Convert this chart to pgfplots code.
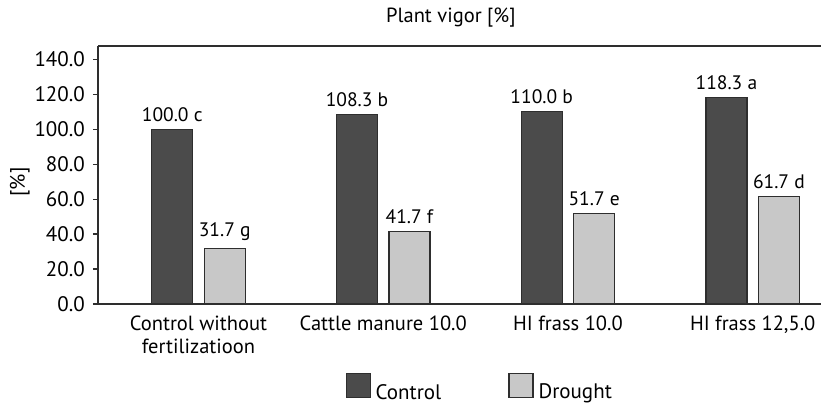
\documentclass[border=0pt]{standalone}
\usepackage{pgfplots}
\pgfplotsset{compat=1.18}
\usepackage{fontspec}
\setmainfont{PT Sans}
\definecolor{darkbar}{HTML}{4B4B4B}
\definecolor{lightbar}{HTML}{C8C8C8}
\definecolor{edge}{HTML}{2E2E2E}
\begin{document}
\fontsize{21}{24}\selectfont
\begin{tikzpicture}
\useasboundingbox (0,0) rectangle (821pt,406pt);
\begin{axis}[
  at={(98pt,102pt)}, anchor=south west,
  scale only axis, width=723pt, height=258pt,
  xmin=-0.544, xmax=3.370, ymin=0, ymax=147.6,
  axis x line*=box, axis y line*=left,
  axis line style={draw=edge, line width=1.3pt},
  ybar,
  bar width=0.222,
  ytick={0,20,...,140},
  tick align=outside,
  major tick length=5pt,
  ytick style={draw=edge, line width=1.2pt},
  y tick label style={/pgf/number format/fixed, /pgf/number format/fixed zerofill, /pgf/number format/precision=1},
  /pgf/number format/assume math mode=true,
  xtick={0,1,2,3},
  xticklabels={{Control without\\fertilizatioon},{Cattle manure 10.0},{HI frass 10.0},{HI frass 12,5.0}},
  xticklabel style={align=center, font=\fontsize{20.5}{23}\selectfont},
  xtick style={draw=none},
  yticklabel style={font=\fontsize{21}{24}\selectfont, xshift=-1pt},
  title={Plant vigor [\%]},
  title style={at={(0.488,1)}, anchor=base, yshift=17pt, font=\fontsize{20.5}{24}\selectfont},
  ylabel={[\%]},
  every axis y label/.style={at={(axis description cs:-0.108,0.473)}, rotate=90, anchor=center, font=\fontsize{21}{24}\selectfont},
  point meta=explicit symbolic,
  nodes near coords,
  nodes near coords style={font=\fontsize{19.5}{22}\selectfont, color=black},
  legend columns=2,
  legend style={at={(0.53,-0.327)}, anchor=center, draw=none, font=\fontsize{21}{24}\selectfont,
    nodes={inner xsep=5pt},
    /tikz/every even column/.append style={column sep=62pt}},
  legend image code/.code={\draw[#1] (0pt,-4pt) rectangle (24pt,20pt);},
]
\addplot[fill=darkbar, draw=edge, line width=1.2pt, bar shift=-0.142] coordinates {
  (0,100.0) [100.0 c]
  (1,108.3) [108.3 b]
  (2,110.0) [110.0 b]
  (3,118.3) [118.3 a]
};
\addlegendentry{Control}
\addplot[fill=lightbar, draw=edge, line width=1.2pt, bar shift=0.142] coordinates {
  (0,31.7) [31.7 g]
  (1,41.7) [41.7 f]
  (2,51.7) [51.7 e]
  (3,61.7) [61.7 d]
};
\addlegendentry{Drought}
\end{axis}
\end{tikzpicture}
\end{document}
